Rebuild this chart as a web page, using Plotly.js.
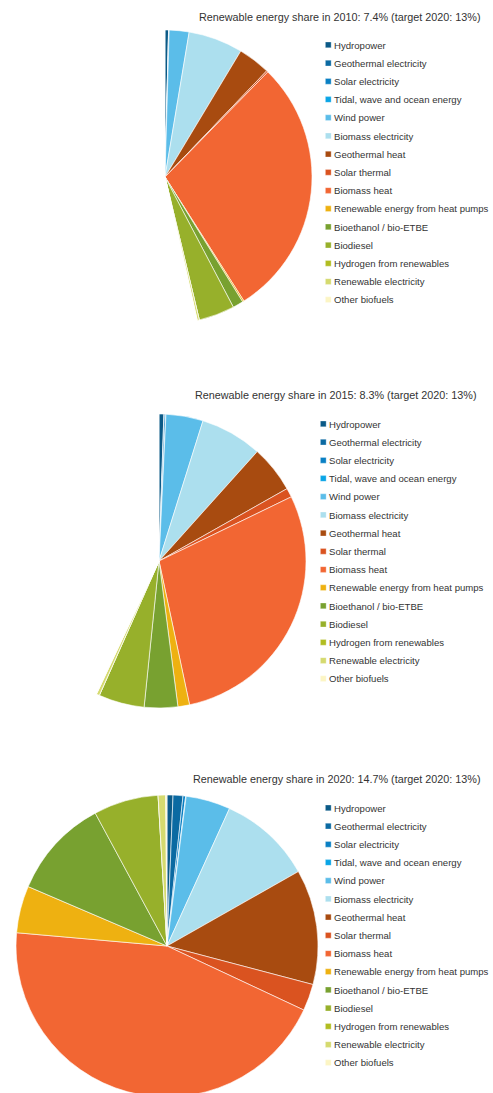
<!DOCTYPE html>
<html>
<head>
<meta charset="utf-8">
<script src="https://cdn.plot.ly/plotly-3.0.1.min.js"></script>
<style>
  html, body { margin: 0; padding: 0; overflow: hidden; background: #fff; }
  #chart { width: 493px; height: 1100px; }
  /* compact legend rows and small square swatches, as in the reference */
  #chart g.scrollbox { transform: scale(0.958); }
  #chart path.legendpie { transform: translate(34px, 0px) scale(0.5); }
</style>
</head>
<body>
<div id="chart"></div>
<script>
// ---- data (shares of gross final energy consumption, percentage points) ----
const categories = [
  "Hydropower",
  "Geothermal electricity",
  "Solar electricity",
  "Tidal, wave and ocean energy",
  "Wind power",
  "Biomass electricity",
  "Geothermal heat",
  "Solar thermal",
  "Biomass heat",
  "Renewable energy from heat pumps",
  "Bioethanol / bio-ETBE",
  "Biodiesel",
  "Hydrogen from renewables",
  "Renewable electricity",
  "Other biofuels"
];
const sliceColors = [
  "#0b5a87", "#0b6aa2", "#0a80c4", "#0aa5e6", "#5bbde9", "#acdfee",
  "#a84b10", "#da5320", "#f26633", "#eeb111", "#78a130", "#97b02b",
  "#b1bd21", "#d5da6f", "#fcf5c4"
];
const years = [2010, 2015, 2020];
const headlineShare = [7.4, 8.3, 14.7];
const target2020 = 13;

const values2010 = [0.057, 0.002, 0.008, 0, 0.32, 0.88, 0.52, 0.025, 4.21, 0.025, 0.17, 0.58, 0, 0.033, 0.004];
const values2015 = [0.078, 0.008, 0.025, 0, 0.60, 1.00, 0.76, 0.147, 4.24, 0.188, 0.54, 0.74, 0, 0.049, 0.004];
const values2020 = [0.094, 0.155, 0.041, 0.008, 0.70, 1.47, 1.81, 0.42, 6.53, 0.74, 1.57, 1.02, 0, 0.118, 0.020];
const seriesByYear = [values2010, values2015, values2020];

// ---- layout helpers ----
const W = 493, H = 1100;
const py = px => 1 - px / H;   // pixel-from-top -> paper y
const pxX = px => px / W;

// pie boxes [x0, x1, yTop, yBottom] in px
const pieBoxes = [
  [18, 312, 30, 324],
  [12, 306, 414, 708],
  [16, 318, 795, 1097]
];
const legendPos = [[295.7, 31], [290.7, 410], [295.7, 794]];
const titlePos = [[483, 16.5], [479, 395], [483, 779]];

const sum = a => a.reduce((s, v) => s + v, 0);
const fullCircle = sum(values2020);   // every pie shares the 2020 scale

const traces = seriesByYear.map((vals, i) => {
  // zero-width marks keep each pie's legend entries separate from the others
  const labels = categories.map(c => c + "\u200b".repeat(i));
  const v = vals.slice();
  const cols = sliceColors.slice();
  const gap = fullCircle - sum(vals);
  if (gap > 0.001) {          // transparent filler, keeps the common scale
    labels.push(" " + "\u200b".repeat(i));
    v.push(gap);
    cols.push("rgba(0,0,0,0)");
  }
  const b = pieBoxes[i];
  return {
    type: "pie",
    labels: labels,
    values: v,
    sort: false,
    direction: "clockwise",
    rotation: 0,
    textinfo: "none",
    hoverinfo: "label+value",
    marker: { colors: cols, line: { color: "#ffffff", width: 0.6 } },
    domain: { x: [pxX(b[0]), pxX(b[1])], y: [py(b[3]), py(b[2])] },
    legend: i === 0 ? "legend" : "legend" + (i + 1),
    showlegend: true
  };
});

const legendFont = { family: "Liberation Sans, Arial, sans-serif", size: 10, color: "#333" };
function legendCfg(i) {
  return {
    x: pxX(legendPos[i][0]), y: py(legendPos[i][1]),
    xanchor: "left", yanchor: "top",
    bgcolor: "rgba(0,0,0,0)", borderwidth: 0,
    font: legendFont, traceorder: "normal"
  };
}

const annotations = years.map((yr, i) => ({
  text: "Renewable energy share in " + yr + ": " + headlineShare[i] + "% (target 2020: " + target2020 + "%)",
  xref: "paper", yref: "paper",
  x: pxX(titlePos[i][0]), y: py(titlePos[i][1]),
  xanchor: "right", yanchor: "middle",
  showarrow: false,
  font: { family: "Liberation Sans, Arial, sans-serif", size: 10.8, color: "#333" }
}));

const layout = {
  width: W, height: H,
  margin: { l: 0, r: 0, t: 0, b: 0, autoexpand: false },
  paper_bgcolor: "#ffffff",
  showlegend: true,
  legend: legendCfg(0),
  legend2: legendCfg(1),
  legend3: legendCfg(2),
  annotations: annotations
};

Plotly.newPlot("chart", traces, layout, { displayModeBar: false, staticPlot: true });
</script>
</body>
</html>
